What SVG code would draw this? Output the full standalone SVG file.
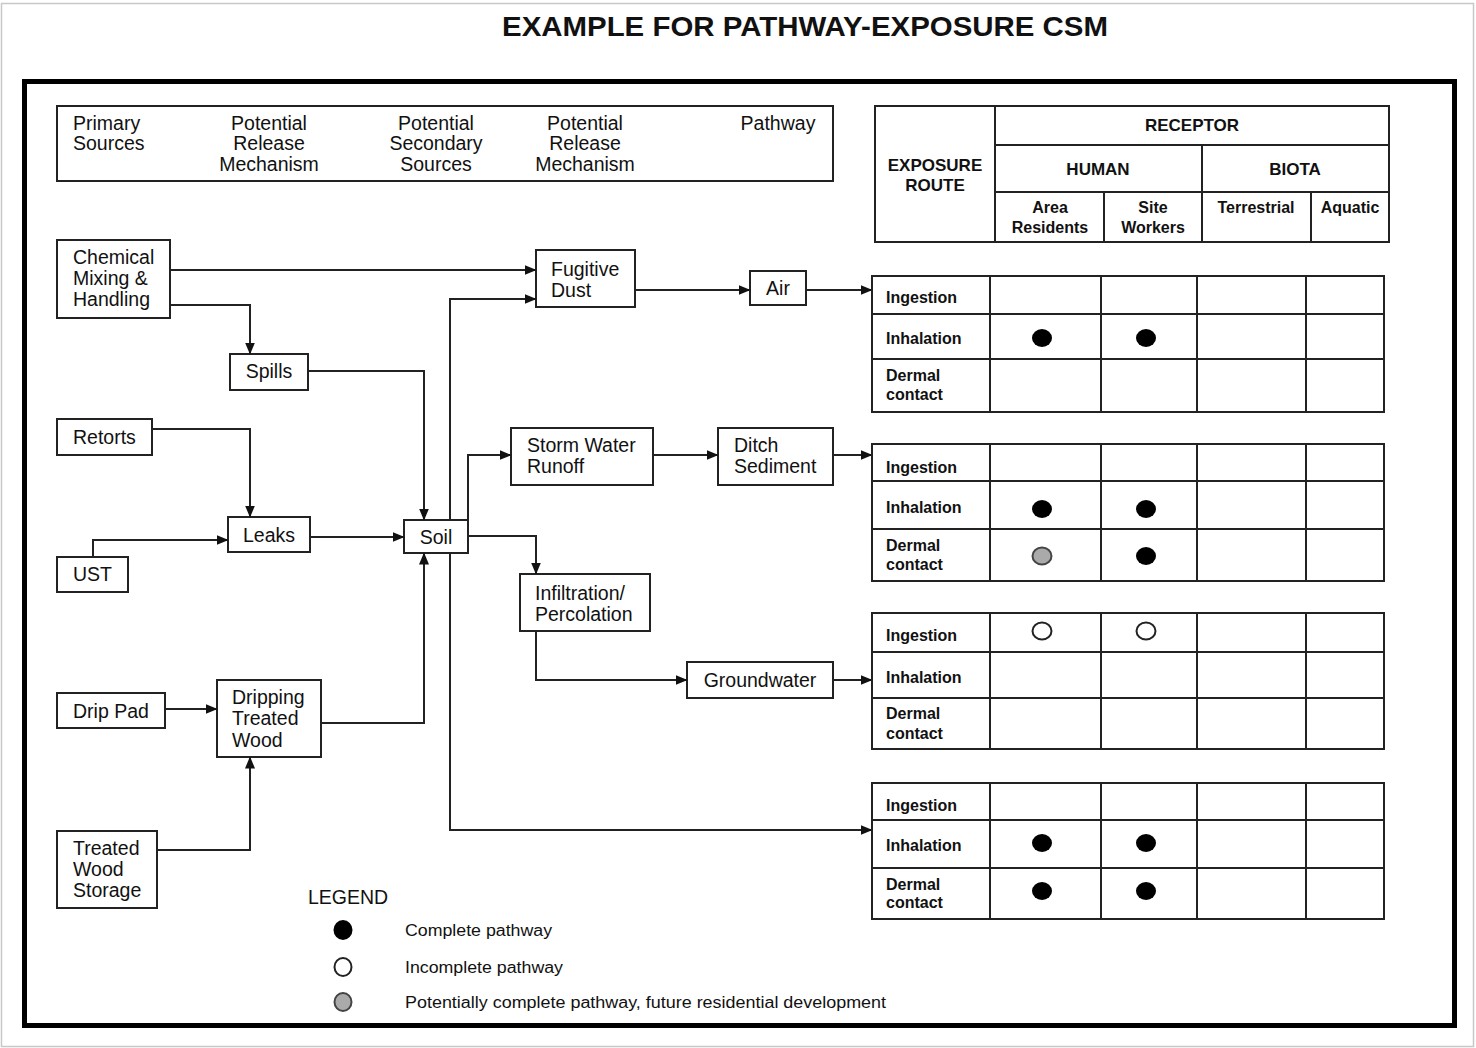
<svg xmlns="http://www.w3.org/2000/svg" width="1476" height="1048" viewBox="0 0 1476 1048">
<style>
text{font-family:"Liberation Sans",Arial,sans-serif;fill:#111}
.t{font-size:19.5px}
.c{text-anchor:middle}
.tb{font-size:16px;font-weight:bold}
.th{font-size:17px;font-weight:bold}
.box{fill:#fff;stroke:#222;stroke-width:2}
.ln{fill:none;stroke:#222;stroke-width:2}
.edge{fill:none;stroke:#222;stroke-width:2;marker-end:url(#arr)}
.full{fill:#000}
.open{fill:#fff;stroke:#222;stroke-width:2}
.grey{fill:#aaa;stroke:#444;stroke-width:2}
</style>
<defs>
<marker id="arr" markerUnits="userSpaceOnUse" markerWidth="12" markerHeight="11" refX="11.5" refY="5" orient="auto">
<path d="M0,0 L12,5 L0,10 z" fill="#111"/>
</marker>
</defs>
<rect x="0" y="0" width="1476" height="1048" fill="#fff"/>
<rect x="1.5" y="3.5" width="1472" height="1043" fill="none" stroke="#c8c8c8" stroke-width="1.5"/>
<text x="805" y="36" class="c" style="font-size:28.5px;font-weight:bold" textLength="606" lengthAdjust="spacingAndGlyphs">EXAMPLE FOR PATHWAY-EXPOSURE CSM</text>
<rect x="24.5" y="81.5" width="1430" height="944" fill="none" stroke="#000" stroke-width="5"/>

<g id="header">
<rect x="57" y="106" width="776" height="75" class="box"/>
<text class="t" x="73" y="130">Primary</text>
<text class="t" x="73" y="150">Sources</text>
<text class="t c" x="269" y="130">Potential</text>
<text class="t c" x="269" y="150">Release</text>
<text class="t c" x="269" y="171">Mechanism</text>
<text class="t c" x="436" y="130">Potential</text>
<text class="t c" x="436" y="150">Secondary</text>
<text class="t c" x="436" y="171">Sources</text>
<text class="t c" x="585" y="130">Potential</text>
<text class="t c" x="585" y="150">Release</text>
<text class="t c" x="585" y="171">Mechanism</text>
<text class="t c" x="778" y="130">Pathway</text>
</g>

<g id="receptor-header">
<rect x="875" y="106" width="514" height="136" class="box"/>
<path class="ln" d="M995,106 V242 M995,145 H1389 M995,192 H1389 M1202,145 V242 M1104,192 V242 M1311,192 V242"/>
<text class="th c" x="935" y="171">EXPOSURE</text>
<text class="th c" x="935" y="191">ROUTE</text>
<text class="th c" x="1192" y="131">RECEPTOR</text>
<text class="th c" x="1098" y="175">HUMAN</text>
<text class="th c" x="1295" y="175">BIOTA</text>
<text class="tb c" x="1050" y="213">Area</text>
<text class="tb c" x="1050" y="233">Residents</text>
<text class="tb c" x="1153" y="213">Site</text>
<text class="tb c" x="1153" y="233">Workers</text>
<text class="tb c" x="1256" y="213">Terrestrial</text>
<text class="tb c" x="1350" y="213">Aquatic</text>
</g>

<g id="n-chemical"><rect x="57" y="240" width="113" height="78" class="box"/>
<text class="t" x="73" y="264">Chemical</text><text class="t" x="73" y="285">Mixing &amp;</text><text class="t" x="73" y="306">Handling</text></g>
<g id="n-spills"><rect x="230" y="354" width="78" height="36" class="box"/><text class="t c" x="269" y="378">Spills</text></g>
<g id="n-retorts"><rect x="57" y="419" width="95" height="36" class="box"/><text class="t" x="73" y="444">Retorts</text></g>
<g id="n-leaks"><rect x="228" y="517" width="82" height="35" class="box"/><text class="t c" x="269" y="542">Leaks</text></g>
<g id="n-ust"><rect x="57" y="557" width="71" height="35" class="box"/><text class="t" x="73" y="581">UST</text></g>
<g id="n-soil"><rect x="404" y="520" width="64" height="33" class="box"/><text class="t c" x="436" y="544">Soil</text></g>
<g id="n-drippad"><rect x="57" y="693" width="108" height="35" class="box"/><text class="t" x="73" y="718">Drip Pad</text></g>
<g id="n-dripping"><rect x="217" y="680" width="104" height="77" class="box"/>
<text class="t" x="232" y="704">Dripping</text><text class="t" x="232" y="725">Treated</text><text class="t" x="232" y="747">Wood</text></g>
<g id="n-storage"><rect x="57" y="831" width="100" height="77" class="box"/>
<text class="t" x="73" y="855">Treated</text><text class="t" x="73" y="876">Wood</text><text class="t" x="73" y="897">Storage</text></g>
<g id="n-fugitive"><rect x="536" y="250" width="99" height="57" class="box"/>
<text class="t" x="551" y="276">Fugitive</text><text class="t" x="551" y="297">Dust</text></g>
<g id="n-air"><rect x="750" y="271" width="56" height="34" class="box"/><text class="t c" x="778" y="295">Air</text></g>
<g id="n-storm"><rect x="511" y="428" width="142" height="57" class="box"/>
<text class="t" x="527" y="452">Storm Water</text><text class="t" x="527" y="473">Runoff</text></g>
<g id="n-ditch"><rect x="718" y="428" width="115" height="57" class="box"/>
<text class="t" x="734" y="452">Ditch</text><text class="t" x="734" y="473">Sediment</text></g>
<g id="n-infil"><rect x="520" y="574" width="130" height="57" class="box"/>
<text class="t" x="535" y="600">Infiltration/</text><text class="t" x="535" y="621">Percolation</text></g>
<g id="n-groundwater"><rect x="687" y="662" width="146" height="36" class="box"/><text class="t c" x="760" y="687">Groundwater</text></g>

<g id="connectors">
<path class="edge" d="M170,270 H536"/>
<path class="edge" d="M170,305 H250 V354"/>
<path class="edge" d="M308,371 H424 V520"/>
<path class="edge" d="M152,429 H250 V517"/>
<path class="edge" d="M93,557 V540 H228"/>
<path class="edge" d="M310,537 H404"/>
<path class="edge" d="M321,723 H424 V553"/>
<path class="edge" d="M165,709 H217"/>
<path class="edge" d="M157,850 H250 V757"/>
<path class="edge" d="M450,520 V299 H536"/>
<path class="edge" d="M468,520 V455 H511"/>
<path class="edge" d="M468,536 H536 V574"/>
<path class="edge" d="M450,553 V830 H872"/>
<path class="edge" d="M635,290 H750"/>
<path class="edge" d="M806,290 H872"/>
<path class="edge" d="M653,455 H718"/>
<path class="edge" d="M833,455 H872"/>
<path class="edge" d="M536,631 V680 H687"/>
<path class="edge" d="M833,680 H872"/>
</g>

<g id="table-air">
<rect x="872" y="276" width="512" height="136" class="box"/>
<path class="ln" d="M872,314 H1384 M872,359 H1384 M990,276 V412 M1101,276 V412 M1197,276 V412 M1306,276 V412"/>
<text class="tb" x="886" y="303">Ingestion</text>
<text class="tb" x="886" y="344">Inhalation</text>
<text class="tb" x="886" y="381">Dermal</text>
<text class="tb" x="886" y="400">contact</text>
<ellipse class="full" cx="1042" cy="338" rx="10" ry="9"/>
<ellipse class="full" cx="1146" cy="338" rx="10" ry="9"/>
</g>

<g id="table-sediment">
<rect x="872" y="444" width="512" height="137" class="box"/>
<path class="ln" d="M872,481 H1384 M872,529 H1384 M990,444 V581 M1101,444 V581 M1197,444 V581 M1306,444 V581"/>
<text class="tb" x="886" y="473">Ingestion</text>
<text class="tb" x="886" y="513">Inhalation</text>
<text class="tb" x="886" y="551">Dermal</text>
<text class="tb" x="886" y="570">contact</text>
<ellipse class="full" cx="1042" cy="509" rx="10" ry="9"/>
<ellipse class="full" cx="1146" cy="509" rx="10" ry="9"/>
<ellipse class="grey" cx="1042" cy="556" rx="9.5" ry="8.5"/>
<ellipse class="full" cx="1146" cy="556" rx="10" ry="9"/>
</g>

<g id="table-groundwater">
<rect x="872" y="613" width="512" height="136" class="box"/>
<path class="ln" d="M872,652 H1384 M872,698 H1384 M990,613 V749 M1101,613 V749 M1197,613 V749 M1306,613 V749"/>
<text class="tb" x="886" y="641">Ingestion</text>
<text class="tb" x="886" y="683">Inhalation</text>
<text class="tb" x="886" y="719">Dermal</text>
<text class="tb" x="886" y="739">contact</text>
<ellipse class="open" cx="1042" cy="631" rx="9.5" ry="8.5"/>
<ellipse class="open" cx="1146" cy="631" rx="9.5" ry="8.5"/>
</g>

<g id="table-soil">
<rect x="872" y="783" width="512" height="136" class="box"/>
<path class="ln" d="M872,820 H1384 M872,868 H1384 M990,783 V919 M1101,783 V919 M1197,783 V919 M1306,783 V919"/>
<text class="tb" x="886" y="811">Ingestion</text>
<text class="tb" x="886" y="851">Inhalation</text>
<text class="tb" x="886" y="890">Dermal</text>
<text class="tb" x="886" y="908">contact</text>
<ellipse class="full" cx="1042" cy="843" rx="10" ry="9"/>
<ellipse class="full" cx="1146" cy="843" rx="10" ry="9"/>
<ellipse class="full" cx="1042" cy="891" rx="10" ry="9"/>
<ellipse class="full" cx="1146" cy="891" rx="10" ry="9"/>
</g>

<g id="legend">
<text class="t" x="308" y="904">LEGEND</text>
<ellipse class="full" cx="343" cy="930" rx="9.5" ry="10"/>
<ellipse class="open" cx="343" cy="967" rx="8.5" ry="9"/>
<ellipse class="grey" cx="343" cy="1002" rx="8.5" ry="9"/>
<text x="405" y="936" style="font-size:16px" textLength="147" lengthAdjust="spacingAndGlyphs">Complete pathway</text>
<text x="405" y="973" style="font-size:16px" textLength="158" lengthAdjust="spacingAndGlyphs">Incomplete pathway</text>
<text x="405" y="1008" style="font-size:16px" textLength="481" lengthAdjust="spacingAndGlyphs">Potentially complete pathway, future residential development</text>
</g>
</svg>
